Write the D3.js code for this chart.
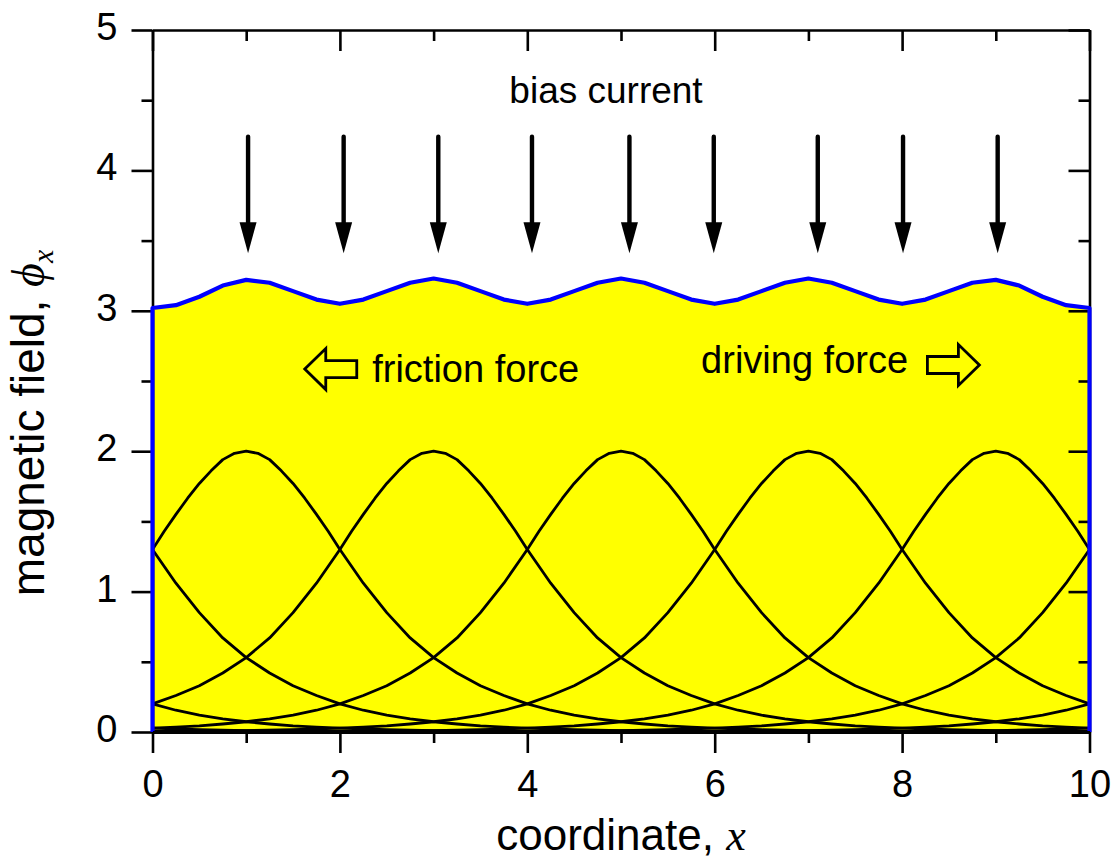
<!DOCTYPE html>
<html>
<head>
<meta charset="utf-8">
<script src="https://cdn.jsdelivr.net/npm/d3@7"></script>
<style>
  html, body { margin: 0; padding: 0; background: #fff; }
  svg { display: block; }
</style>
</head>
<body>
<svg id="chart" width="1114" height="863"></svg>
<script>
// ---- data -------------------------------------------------------------
// Axis ticks
const xMajorTicks = [0, 2, 4, 6, 8, 10];
const xMinorTicks = [1, 3, 5, 7, 9];
const yMajorTicks = [0, 1, 2, 3, 4, 5];
const yMinorTicks = [0.5, 1.5, 2.5, 3.5, 4.5];

// Fluxon centres along the line (odd coordinates, including neighbours outside the window)
const fluxonCenters = [-9, -7, -5, -3, -1, 1, 3, 5, 7, 9, 11, 13, 15, 17, 19];

// Single-fluxon field profile: distance from centre -> phi_x
const profileOffsets = [0, 0.125, 0.25, 0.375, 0.5, 0.625, 0.75, 0.875, 1.0, 1.25, 1.5, 1.75,
                        2.0, 2.25, 2.5, 2.75, 3.0, 3.25, 3.5, 3.75, 4.0, 4.25, 4.5, 4.75,
                        5.0, 5.5, 6.0, 7.0, 8.0, 10.0];
const profileValues  = [2.00, 1.985, 1.94, 1.86, 1.77, 1.665, 1.55, 1.43, 1.30, 1.06, 0.85, 0.67,
                        0.53, 0.42, 0.33, 0.26, 0.20, 0.155, 0.12, 0.094, 0.073, 0.057, 0.044, 0.035,
                        0.027, 0.016, 0.010, 0.004, 0.002, 0.0];

// Total field along the junction
const totalX = [0, 0.25, 0.5, 0.75, 1, 1.25, 1.5, 1.75, 2, 2.25, 2.5, 2.75, 3, 3.25, 3.5, 3.75,
                4, 4.25, 4.5, 4.75, 5, 5.25, 5.5, 5.75, 6, 6.25, 6.5, 6.75, 7, 7.25, 7.5, 7.75,
                8, 8.25, 8.5, 8.75, 9, 9.25, 9.5, 9.75, 10];
const totalField = [3.02, 3.04, 3.10, 3.18, 3.22, 3.20, 3.14, 3.08, 3.05, 3.08, 3.14, 3.20,
                    3.23, 3.20, 3.14, 3.08, 3.05, 3.08, 3.14, 3.20, 3.23, 3.20, 3.14, 3.08,
                    3.05, 3.08, 3.14, 3.20, 3.23, 3.20, 3.14, 3.08, 3.05, 3.08, 3.14, 3.20,
                    3.22, 3.18, 3.10, 3.04, 3.02];

// Bias-current arrows
const biasArrowX = [1.02, 2.04, 3.05, 4.05, 5.09, 5.99, 7.10, 8.01, 9.02];
const biasArrowTop = 4.24;
const biasArrowTip = 3.41;

// ---- layout -----------------------------------------------------------
const svg = d3.select("#chart");
const x = d3.scaleLinear().domain([0, 10]).range([152.5, 1089.5]);
const y = d3.scaleLinear().domain([0, 5]).range([732, 30]);

const FONT = "'Liberation Sans', Arial, Helvetica, sans-serif";
const SERIF = "'Liberation Serif', 'DejaVu Serif', 'Times New Roman', serif";

// clip region for the plot area
svg.append("defs").append("clipPath").attr("id", "plotClip")
  .append("rect")
  .attr("x", x(0)).attr("y", y(5))
  .attr("width", x(10) - x(0)).attr("height", y(0) - y(5));

const totalPts = totalX.map((v, i) => [v, totalField[i]]);

// yellow area under the total field
svg.append("path")
  .datum(totalPts)
  .attr("fill", "#ffff00")
  .attr("d", d3.area().x(d => x(d[0])).y0(y(0)).y1(d => y(d[1])));

// individual fluxon profiles
const curveG = svg.append("g").attr("clip-path", "url(#plotClip)");
const line = d3.line().x(d => x(d[0])).y(d => y(d[1]));
fluxonCenters.forEach(c => {
  const pts = [];
  for (let i = profileOffsets.length - 1; i > 0; i--) pts.push([c - profileOffsets[i], profileValues[i]]);
  for (let i = 0; i < profileOffsets.length; i++) pts.push([c + profileOffsets[i], profileValues[i]]);
  curveG.append("path")
    .datum(pts)
    .attr("fill", "none")
    .attr("stroke", "#000")
    .attr("stroke-width", 2.8)
    .attr("stroke-linejoin", "round")
    .attr("d", line);
});

// ---- axes -------------------------------------------------------------
const AX_W = 2.6;
function styleAxis(g) {
  g.selectAll("path.domain").attr("stroke", "#000").attr("stroke-width", AX_W);
  g.selectAll(".tick line").attr("stroke", "#000").attr("stroke-width", AX_W);
  g.selectAll(".tick text").attr("font-family", FONT).attr("font-size", 38).attr("fill", "#000");
}

// left (outward)
const gl = svg.append("g").attr("transform", `translate(${x(0)},0)`);
gl.call(d3.axisLeft(y).tickValues(yMajorTicks).tickSize(21).tickSizeOuter(0).tickFormat(d3.format("d")));
gl.append("g").call(d3.axisLeft(y).tickValues(yMinorTicks).tickSize(11).tickSizeOuter(0).tickFormat(""))
  .select("path.domain").remove();
styleAxis(gl);
gl.selectAll(".tick text").attr("x", -35).attr("dy", null).attr("y", 9.5);

// top (inward)
const gt = svg.append("g").attr("transform", `translate(0,${y(5)})`);
gt.call(d3.axisTop(x).tickValues(xMajorTicks).tickSize(-21).tickSizeOuter(0).tickFormat(""));
gt.append("g").call(d3.axisTop(x).tickValues(xMinorTicks).tickSize(-11).tickSizeOuter(0).tickFormat(""))
  .select("path.domain").remove();
styleAxis(gt);

// right (inward)
const gr = svg.append("g").attr("transform", `translate(${x(10)},0)`);
gr.call(d3.axisRight(y).tickValues(yMajorTicks).tickSize(-21).tickSizeOuter(0).tickFormat(""));
gr.append("g").call(d3.axisRight(y).tickValues(yMinorTicks).tickSize(-11).tickSizeOuter(0).tickFormat(""))
  .select("path.domain").remove();
styleAxis(gr);

// total field outline (blue), including the vertical edges down to zero
const outline = [[0, 0]].concat(totalPts, [[10, 0]]);
svg.append("path")
  .datum(outline)
  .attr("fill", "none")
  .attr("stroke", "#0000ff")
  .attr("stroke-width", 4.2)
  .attr("stroke-linejoin", "round")
  .attr("d", line);

// bottom (outward), drawn last so it sits on top
const gb = svg.append("g").attr("transform", `translate(0,${y(0)})`);
gb.call(d3.axisBottom(x).tickValues(xMajorTicks).tickSize(21).tickSizeOuter(0).tickFormat(d3.format("d")));
gb.append("g").call(d3.axisBottom(x).tickValues(xMinorTicks).tickSize(11).tickSizeOuter(0).tickFormat(""))
  .select("path.domain").remove();
styleAxis(gb);
gb.select("path.domain").attr("stroke-width", 3.2);
gb.selectAll(".tick text").attr("dy", null).attr("y", 65);

// ---- axis titles ------------------------------------------------------
const xt = svg.append("text")
  .attr("x", 621).attr("y", 850)
  .attr("text-anchor", "middle")
  .attr("font-family", FONT).attr("font-size", 44).attr("fill", "#000");
xt.append("tspan").text("coordinate, ");
xt.append("tspan").attr("font-family", SERIF).attr("font-style", "italic").text("x");

const yt = svg.append("text")
  .attr("transform", `translate(44,${423}) rotate(-90)`)
  .attr("text-anchor", "middle")
  .attr("font-family", FONT).attr("font-size", 46).attr("fill", "#000");
yt.append("tspan").text("magnetic field, ");
yt.append("tspan").attr("font-family", SERIF).attr("font-style", "italic").text("\u03D5");
yt.append("tspan").attr("font-family", SERIF).attr("font-style", "italic")
  .attr("font-size", 30).attr("dy", 9).text("x");

// ---- annotations ------------------------------------------------------
svg.append("text")
  .attr("x", 606).attr("y", y(4.482))
  .attr("text-anchor", "middle")
  .attr("font-family", FONT).attr("font-size", 37).attr("fill", "#000")
  .text("bias current");

const arrowG = svg.append("g");
const headLen = 31, headHalf = 8.5;
biasArrowX.forEach(v => {
  const px = x(v), tip = y(biasArrowTip);
  arrowG.append("line")
    .attr("x1", px).attr("x2", px)
    .attr("y1", y(biasArrowTop)).attr("y2", tip - headLen + 2)
    .attr("stroke", "#000").attr("stroke-width", 4.4).attr("stroke-linecap", "round");
  arrowG.append("path")
    .attr("d", `M${px},${tip} L${px - headHalf},${tip - headLen} L${px + headHalf},${tip - headLen} Z`)
    .attr("fill", "#000");
});

// hollow block arrows; dir = -1 points left, +1 points right
function blockArrow(tipX, tipY, dir) {
  const L = 52, HL = 21, HH = 20.5, BH = 8.5;
  const pts = [
    [0, 0], [HL, -HH], [HL, -BH], [L, -BH], [L, BH], [HL, BH], [HL, HH]
  ].map(([a, b]) => [tipX - dir * a, tipY + b]);
  svg.append("path")
    .attr("d", "M" + pts.map(p => p.join(",")).join("L") + "Z")
    .attr("fill", "none").attr("stroke", "#000").attr("stroke-width", 2.8)
    .attr("stroke-linejoin", "miter");
}
blockArrow(x(1.625), y(2.585), -1);
blockArrow(x(8.825), y(2.614), 1);

svg.append("text")
  .attr("x", x(2.345)).attr("y", y(2.493))
  .attr("font-family", FONT).attr("font-size", 38).attr("fill", "#000")
  .text("friction force");
svg.append("text")
  .attr("x", x(5.855)).attr("y", y(2.557))
  .attr("font-family", FONT).attr("font-size", 38).attr("fill", "#000")
  .text("driving force");
</script>
</body>
</html>
